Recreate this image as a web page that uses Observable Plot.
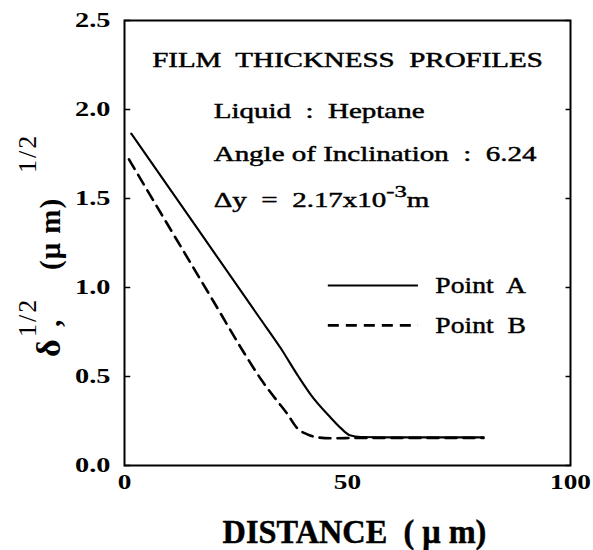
<!DOCTYPE html>
<html><head><meta charset="utf-8">
<script src="https://cdn.jsdelivr.net/npm/d3@7"></script>
<script src="https://cdn.jsdelivr.net/npm/@observablehq/plot@0.6"></script>
<style>
body{margin:0;background:#fff;}
#chart svg{font-family:"Liberation Serif","Times New Roman",serif;color:#000;}
g[aria-label="y-axis tick label"] text, g[aria-label="x-axis tick label"] text{font-size:21px;font-weight:bold;}
g[aria-label="text"] text{stroke:#000;stroke-width:0.45px;}
</style></head><body><div id="chart"></div>
<script>
// ---- data ----
const distanceA = [1.5, 10, 20, 30, 35, 39, 42, 46, 48.5, 50.5, 53, 60, 70, 80.5];
const rootA = [1.865, 1.56, 1.2, 0.84, 0.66, 0.5, 0.39, 0.275, 0.21, 0.17, 0.16, 0.158, 0.158, 0.158];
const distanceB = [1, 10, 20, 27, 31, 34, 36.5, 38.7, 41, 43.5, 47, 52, 60, 80.5];
const rootB = [1.72, 1.34, 0.92, 0.625, 0.47, 0.37, 0.29, 0.21, 0.175, 0.157, 0.153, 0.155, 0.155, 0.155];
const seriesNames = ["Point A", "Point B"];
const xTicks = [0, 50, 100];
const yTicks = [0, 0.5, 1.0, 1.5, 2.0, 2.5];
const titleText = "FILM  THICKNESS  PROFILES";
const infoLines = ["Liquid  :  Heptane", "Angle of Inclination  :  6.24", "Δy  =  2.17x10^{-3}m"];
const xLabel = "DISTANCE  ( μ m)";

const A = distanceA.map((x, i) => ({x, y: rootA[i]}));
const B = distanceB.map((x, i) => ({x, y: rootB[i]}));

const infoY = [1.955, 1.713, 1.455];
const legendY = [1.011, 0.787];

const plot = Plot.plot({
  width: 593, height: 550,
  marginLeft: 124, marginRight: 23, marginTop: 20, marginBottom: 85,
  x: {domain: [0, 100]},
  y: {domain: [0, 2.5]},
  marks: [
    Plot.axisY({ticks: yTicks, tickFormat: d3.format(".1f"), tickSize: 0, tickPadding: 14, label: null}),
    Plot.axisX({ticks: xTicks, tickFormat: d3.format("d"), tickSize: 0, tickPadding: 9, label: null}),
    Plot.ruleY(yTicks, {y: d => d, x1: 0, x2: 1.4, strokeWidth: 1.5}),
    Plot.ruleY(yTicks, {y: d => d, x1: 99, x2: 100, strokeWidth: 1.5}),
    Plot.line(B, {x: "x", y: "y", curve: "monotone-x", strokeWidth: 2.6, strokeDasharray: "11,7"}),
    Plot.line(A, {x: "x", y: "y", curve: "monotone-x", strokeWidth: 2.1}),
    Plot.frame({strokeWidth: 2}),
    Plot.text([titleText], {x: 50, y: 2.236, text: d => d, lineAnchor: "bottom", textAnchor: "middle", fontSize: 20}),
    Plot.text(infoLines, {x: 20, y: (d, i) => infoY[i], text: d => d, lineAnchor: "bottom", textAnchor: "start", fontSize: 20}),
    Plot.ruleY([seriesNames[0]], {y: legendY[0], x1: 45.7, x2: 65.9, strokeWidth: 2.1}),
    Plot.ruleY([seriesNames[1]], {y: legendY[1], x1: 45.7, x2: 65.9, strokeWidth: 2.6, strokeDasharray: "11,7"}),
    Plot.text(seriesNames, {x: 69.7, y: (d, i) => legendY[i], text: d => d.replace(" ", "  "), lineAnchor: "middle", textAnchor: "start", fontSize: 24}),
    Plot.text([xLabel], {frameAnchor: "bottom", dx: 7, dy: 77, text: d => d, lineAnchor: "bottom", textAnchor: "middle", fontSize: 33, fontWeight: "bold"})
  ]
});
document.getElementById("chart").append(plot);

const svg = d3.select(plot);

// superscripts written as ^{...}
svg.selectAll("text").each(function () {
  const s = this.textContent;
  if (!s.includes("^{")) return;
  const el = d3.select(this);
  el.text(null);
  const parts = s.split(/(\^\{[^}]*\})/);
  let raised = false;
  for (const p of parts) {
    if (!p) continue;
    if (p.startsWith("^{")) {
      el.append("tspan").attr("dy", -10).attr("font-size", 17).text(p.slice(2, -1));
      raised = true;
    } else {
      const t = el.append("tspan").text(p);
      if (raised) { t.attr("dy", 10); raised = false; }
    }
  }
});

function stretch(sel, s) {
  sel.each(function () {
    const t = this.getAttribute("transform");
    if (t) this.setAttribute("transform", t + ` scale(${s},1)`);
    else {
      const x = +(this.getAttribute("x") || 0);
      this.setAttribute("transform", `translate(${x},0) scale(${s},1) translate(${-x},0)`);
    }
  });
}
stretch(svg.selectAll('g[aria-label="y-axis tick label"] text'), 1.35);
stretch(svg.selectAll('g[aria-label="x-axis tick label"] text'), 1.3);
stretch(svg.selectAll('g[aria-label="text"] text').filter(function () {
  const s = this.textContent; return s === titleText || s.startsWith("Liquid") || s.startsWith("Angle") || s.startsWith("Δy");
}), 1.45);
stretch(svg.selectAll('g[aria-label="text"] text').filter(function () {
  return this.textContent.startsWith("Point");
}), 1.15);
stretch(svg.selectAll('g[aria-label="text"] text').filter(function () {
  return this.textContent.startsWith("DISTANCE");
}), 0.98);

// rotated y-axis title: δ^{1/2}, (μm)^{1/2}
const yl = svg.append("text")
  .attr("transform", "translate(60,357) rotate(-90)")
  .attr("text-anchor", "start")
  .attr("fill", "currentColor");
yl.append("tspan").attr("x", 0).attr("y", 0).attr("font-size", 34).attr("font-weight", "bold").text("δ");
yl.append("tspan").attr("x", 20).attr("y", -24).attr("font-size", 26).attr("letter-spacing", 2).text("1/2");
yl.append("tspan").attr("x", 30).attr("y", 0).attr("font-size", 30).attr("font-weight", "bold").text(",");
yl.append("tspan").attr("x", 87).attr("y", 0).attr("font-size", 29).attr("font-weight", "bold").attr("letter-spacing", 1).text("(μ m)");
yl.append("tspan").attr("x", 184).attr("y", -24).attr("font-size", 26).attr("letter-spacing", 2).text("1/2");
</script></body></html>
